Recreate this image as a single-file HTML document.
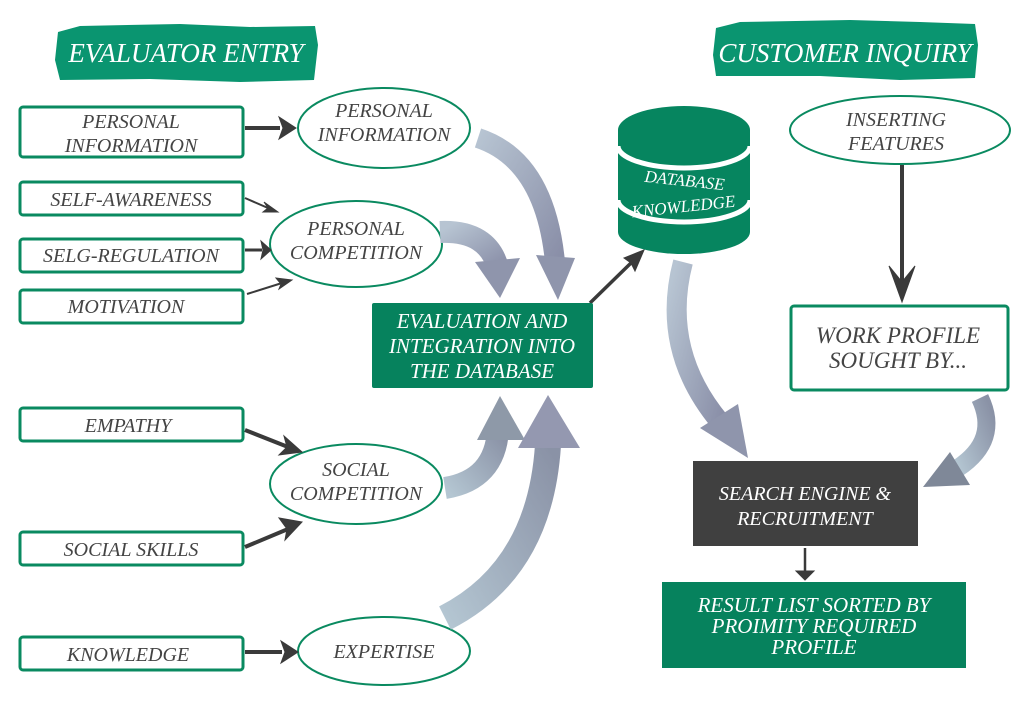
<!DOCTYPE html>
<html><head><meta charset="utf-8"><style>
html,body{margin:0;padding:0;background:#fff;}
svg{display:block;}
text{font-family:"Liberation Serif",serif;font-style:italic;}
</style></head><body>
<svg width="1024" height="701" viewBox="0 0 1024 701" xmlns="http://www.w3.org/2000/svg">
<defs>
<linearGradient id="g1" x1="0" y1="0" x2="1" y2="1"><stop offset="0" stop-color="#b7c4d2"/><stop offset="1" stop-color="#8a8fa8"/></linearGradient>
<linearGradient id="g2" x1="0" y1="1" x2="1" y2="0"><stop offset="0" stop-color="#b4c6d2"/><stop offset="1" stop-color="#8a92a6"/></linearGradient>
</defs>
<!-- banners -->
<path d="M58,32 L80,26 L180,24 L250,27 L315,26 L318,45 L314,80 L240,82 L150,79 L60,80 L55,60 Z" fill="#0a9570"/>
<text x="186" y="62" font-size="27" fill="#fff" text-anchor="middle">EVALUATOR ENTRY</text>
<path d="M716,28 L740,22 L850,20 L920,22 L975,24 L978,45 L975,78 L900,80 L820,76 L716,76 L713,55 Z" fill="#0a9570"/>
<text x="845" y="62" font-size="27" fill="#fff" text-anchor="middle">CUSTOMER INQUIRY</text>

<g fill="#fff" stroke="#0a8a60" stroke-width="3">
<rect x="20" y="107" width="223" height="50" rx="3"/>
<rect x="20" y="182" width="223" height="33" rx="3"/>
<rect x="20" y="239" width="223" height="33" rx="3"/>
<rect x="20" y="290" width="223" height="33" rx="3"/>
<rect x="20" y="408" width="223" height="33" rx="3"/>
<rect x="20" y="532" width="223" height="33" rx="3"/>
<rect x="20" y="637" width="223" height="33" rx="3"/>
<rect x="791" y="306" width="217" height="84" rx="3"/>
</g>
<g fill="#fff" stroke="#0a8a60" stroke-width="2">
<ellipse cx="384" cy="128" rx="86" ry="40"/>
<ellipse cx="356" cy="244" rx="86" ry="43"/>
<ellipse cx="356" cy="484" rx="86" ry="40"/>
<ellipse cx="384" cy="651" rx="86" ry="34"/>
<ellipse cx="900" cy="130" rx="110" ry="34"/>
</g>
<g font-size="20" fill="#444" text-anchor="middle">
<text x="131" y="128">PERSONAL</text><text x="131" y="152">INFORMATION</text>
<text x="131" y="206">SELF-AWARENESS</text>
<text x="131" y="262">SELG-REGULATION</text>
<text x="126" y="313">MOTIVATION</text>
<text x="128" y="432">EMPATHY</text>
<text x="131" y="556">SOCIAL SKILLS</text>
<text x="128" y="661">KNOWLEDGE</text>
<text x="384" y="117">PERSONAL</text><text x="384" y="141">INFORMATION</text>
<text x="356" y="235">PERSONAL</text><text x="356" y="259">COMPETITION</text>
<text x="356" y="476">SOCIAL</text><text x="356" y="500">COMPETITION</text>
<text x="384" y="658">EXPERTISE</text>
<text x="896" y="126">INSERTING</text><text x="896" y="150">FEATURES</text>
</g>
<text x="898" y="343" font-size="23" fill="#444" text-anchor="middle">WORK PROFILE</text>
<text x="898" y="368" font-size="23" fill="#444" text-anchor="middle">SOUGHT BY...</text>

<!-- small arrows -->
<g stroke="#3a3a3a" fill="#3a3a3a">
<line x1="245" y1="128" x2="280" y2="128" stroke-width="4"/><path d="M296,128 L279,117 L283,128 L279,139 Z"/>
<line x1="245" y1="198" x2="268" y2="208" stroke-width="2"/><path d="M278,212 L264,202 L268,208 L263,212 Z"/>
<line x1="245" y1="250" x2="262" y2="250" stroke-width="3"/><path d="M271,250 L261,241 L263,250 L261,259 Z"/>
<line x1="247" y1="294" x2="282" y2="283" stroke-width="2"/><path d="M292,280 L276,278 L281,284 L279,289 Z"/>
<line x1="245" y1="430" x2="288" y2="447" stroke-width="4"/><path d="M302,452 L284,436 L287,447 L279,455 Z"/>
<line x1="245" y1="547" x2="288" y2="529" stroke-width="4"/><path d="M302,522 L279,518 L287,529 L285,540 Z"/>
<line x1="245" y1="652" x2="282" y2="652" stroke-width="4"/><path d="M298,652 L281,641 L285,652 L281,663 Z"/>
<line x1="590" y1="303" x2="632" y2="262" stroke-width="3.5"/><path d="M644,250 L624,258 L631,263 L635,271 Z"/>
<line x1="902" y1="165" x2="902" y2="285" stroke-width="4"/><path d="M902,302 L889,266 L902,282 L915,266 Z"/>
<line x1="805" y1="548" x2="805" y2="575" stroke-width="2.5"/><path d="M805,580 L796,571 L814,571 Z"/>
</g>

<!-- big curved arrows -->
<g fill="none" stroke-linecap="butt">
<path d="M478,138 Q545,160 555,262" stroke="url(#g1)" stroke-width="20"/>
<path d="M440,232 Q488,230 498,268" stroke="url(#g1)" stroke-width="22"/>
<path d="M445,488 Q495,480 498,430" stroke="url(#g2)" stroke-width="22"/>
<path d="M445,618 Q540,570 548,445" stroke="url(#g2)" stroke-width="26"/>
<path d="M683,262 Q660,350 720,422" stroke="url(#g1)" stroke-width="20"/>
<path d="M980,398 Q1000,440 958,468" stroke="url(#g2)" stroke-width="18"/>
</g>
<g fill="#8f95ac">
<path d="M536,255 L575,258 L558,300 Z"/>
<path d="M475,262 L520,258 L500,298 Z"/>
<path d="M477,440 L525,440 L500,396 Z" fill="#8e99a8"/>
<path d="M518,448 L580,448 L548,395 Z" fill="#9498b0"/>
<path d="M700,428 L738,404 L748,458 Z"/>
<path d="M950,452 L970,485 L923,487 Z" fill="#7f8898"/>
</g>

<!-- evaluation box -->
<rect x="372" y="303" width="221" height="85" rx="2" fill="#06825d"/>
<g font-size="21" fill="#fff" text-anchor="middle">
<text x="482" y="328">EVALUATION AND</text>
<text x="482" y="353">INTEGRATION INTO</text>
<text x="482" y="378">THE DATABASE</text>
</g>

<!-- database -->
<path d="M618,130 A66,24 0 0 1 750,130 L750,232 A66,22 0 0 1 618,232 Z" fill="#06855f"/>
<path d="M618,146 A66,22 0 0 0 750,146" fill="none" stroke="#fff" stroke-width="5"/>
<path d="M618,200 A66,22 0 0 0 750,200" fill="none" stroke="#fff" stroke-width="5"/>
<text x="684" y="186" font-size="17" fill="#fff" text-anchor="middle" transform="rotate(6 684 186)">DATABASE</text>
<text x="684" y="212" font-size="17" fill="#fff" text-anchor="middle" transform="rotate(-6 684 212)">KNOWLEDGE</text>

<!-- search engine -->
<rect x="693" y="461" width="225" height="85" fill="#404040"/>
<text x="805" y="500" font-size="20" fill="#fff" text-anchor="middle">SEARCH ENGINE &amp;</text>
<text x="805" y="525" font-size="20" fill="#fff" text-anchor="middle">RECRUITMENT</text>

<!-- result -->
<rect x="662" y="582" width="304" height="86" fill="#06825d"/>
<g font-size="21" fill="#fff" text-anchor="middle">
<text x="814" y="612">RESULT LIST SORTED BY</text>
<text x="814" y="633">PROIMITY REQUIRED</text>
<text x="814" y="654">PROFILE</text>
</g>
</svg>
</body></html>
